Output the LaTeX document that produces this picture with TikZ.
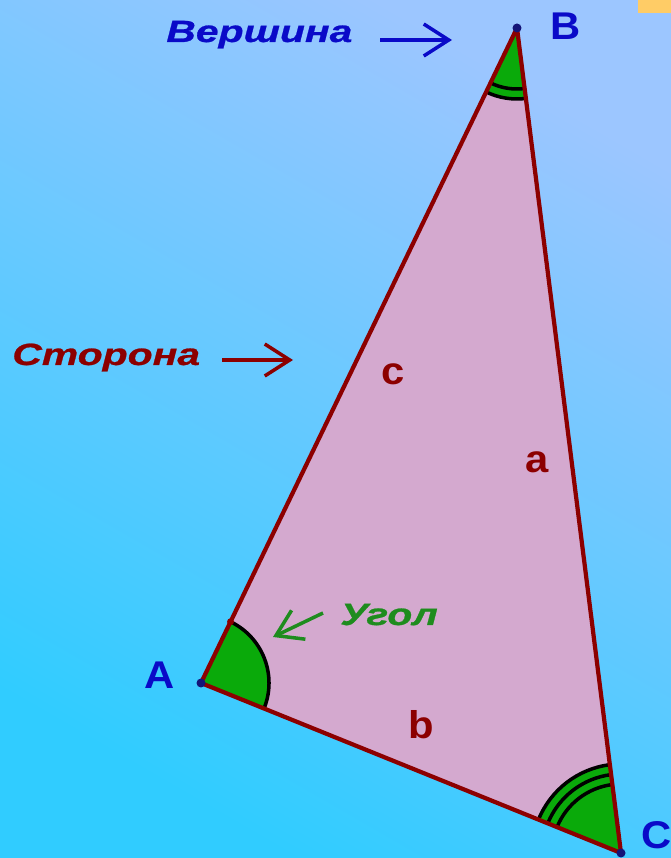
\documentclass[tikz,border=0pt]{standalone}
\usepackage{fontspec}
\setmainfont{Liberation Sans}
\newfontfamily\tagfont[FakeStretch=1.33,FakeBold=0.8]{Liberation Sans}
\newfontfamily\namefont[FakeStretch=1.08]{Liberation Sans}
\usetikzlibrary{arrows.meta,angles,calc}
\definecolor{skytop}{RGB}{156,198,255}
\definecolor{skybottom}{RGB}{48,204,255}
\definecolor{trifill}{RGB}{212,169,207}
\definecolor{sidered}{RGB}{140,0,0}
\definecolor{labelblue}{RGB}{10,10,200}
\definecolor{labelgreen}{RGB}{30,140,30}
\definecolor{angfill}{RGB}{10,170,10}
\definecolor{dotblue}{RGB}{20,20,120}
\definecolor{cornersq}{RGB}{255,204,102}
\tikzset{
  lbl/.style={font=\namefont\bfseries\fontsize{22}{26}\selectfont, inner sep=0pt, anchor=base},
  tag/.style={font=\tagfont\bfseries\itshape\fontsize{17.5}{21}\selectfont, inner sep=0pt, anchor=base west},
  pointer/.style={line width=2pt, -{Straight Barb[length=0.5cm, width=0.64cm, line width=2pt]}},
  angmark/.style={fill=angfill, draw=black, line width=2pt}
}
\begin{document}
\begin{tikzpicture}
\useasboundingbox (0,0) rectangle (13.42,17.16);
\shade[top color=skytop, bottom color=skybottom, shading angle=-30] (0,0) rectangle (13.42,17.16);
\fill[cornersq] (12.76,16.9) rectangle (13.42,17.2);
% vertices
\coordinate (A) at (4.02,3.50);
\coordinate (B) at (10.34,16.60);
\coordinate (C) at (12.42,0.10);
\fill[trifill] (A) -- (B) -- (C) -- cycle;
% angles
\pic[angmark, angle radius=1.36cm] {angle=C--A--B};
\pic[angmark, angle radius=1.42cm] {angle=A--B--C};
\pic[draw=black, line width=2pt, angle radius=1.22cm] {angle=A--B--C};
\pic[angmark, angle radius=1.78cm] {angle=B--C--A};
\pic[draw=black, line width=2pt, angle radius=1.58cm] {angle=B--C--A};
\pic[draw=black, line width=2pt, angle radius=1.38cm] {angle=B--C--A};
\draw[sidered, line width=2.4pt, line join=round] (A) -- (B) -- (C) -- cycle;
\fill[sidered] ($(A)!1.36cm!(B)$) circle (0.07);
\foreach \v in {A,B,C}
  \fill[dotblue] (\v) circle (0.09);
% vertex names
\node[lbl, labelblue] (nameB) at (11.31,16.36) {B};
\node[lbl, labelblue] (nameA) at (3.20,3.38) {A};
\node[lbl, labelblue, anchor=base east] (nameC) at (13.45,0.20) {C};
% side names
\node[lbl, sidered] (sidec) at (7.86,9.46) {c};
\node[lbl, sidered] (sidea) at (10.74,7.70) {a};
\node[lbl, sidered] (sideb) at (8.42,2.40) {b};
% captions
\node[tag, labelblue] (vershina) at (3.32,16.32) {Вершина};
\coordinate (vtail) at (7.60,16.36);
\coordinate (vtip) at (9.04,16.36);
\draw[pointer, labelblue] (vtail) -- (vtip);
\node[tag, sidered] (storona) at (0.24,9.86) {Сторона};
\coordinate (stail) at (4.44,9.96);
\coordinate (stip) at (5.86,9.96);
\draw[pointer, sidered] (stail) -- (stip);
\node[tag, labelgreen] (ugol) at (6.80,4.66) {Угол};
\coordinate (utail) at (6.46,4.90);
\coordinate (utip) at (5.46,4.42);
\draw[pointer, labelgreen] (utail) -- (utip);
\end{tikzpicture}
\end{document}
